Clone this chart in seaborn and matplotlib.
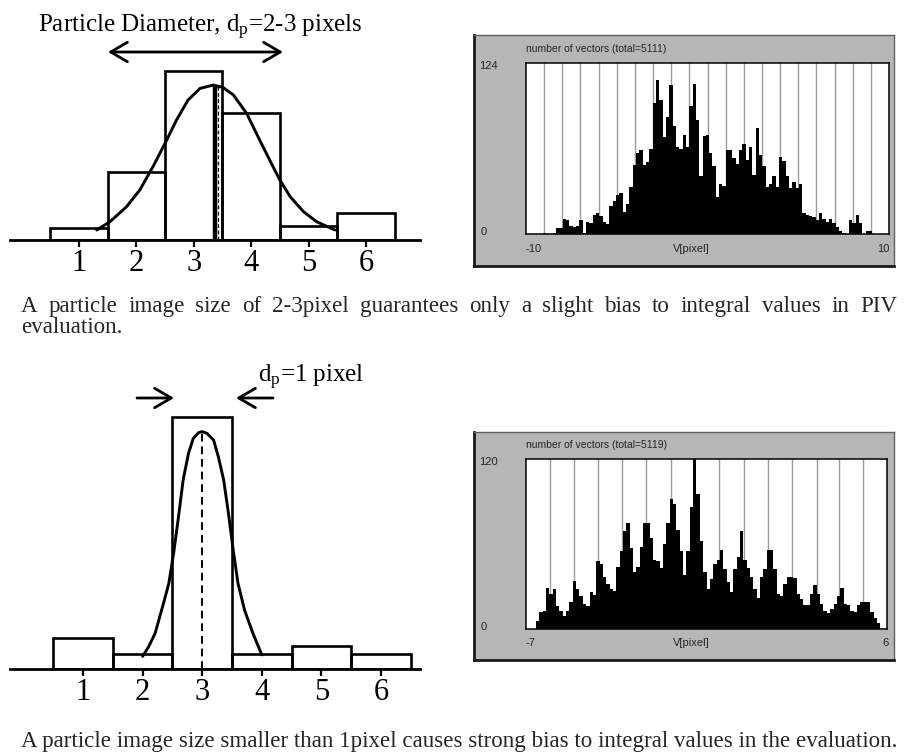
import numpy as np
import pandas as pd
import matplotlib
matplotlib.use("Agg")
import matplotlib.pyplot as plt
import seaborn as sns

# ---------------- data ----------------
size_ticks = [1, 2, 3, 4, 5, 6]
size_tick_labels = ["1", "2", "3", "4", "5", "6"]
size_bin_edges = [0.5, 1.5, 2.5, 3.5, 4.5, 5.5, 6.5]

# upper sketch: particle diameter 2-3 pixels
top_bar_heights = [0.07, 0.40, 1.00, 0.75, 0.08, 0.16]
top_curve_x = [1.31, 1.54, 1.83, 2.06, 2.29, 2.50, 2.70, 2.90, 3.11, 3.34,
               3.51, 3.69, 3.92, 4.15, 4.38, 4.50, 4.68, 4.91, 5.14, 5.46]
top_curve_y = [0.059, 0.108, 0.197, 0.296, 0.434, 0.572, 0.710, 0.828, 0.897, 0.917,
               0.903, 0.858, 0.750, 0.590, 0.434, 0.355, 0.256, 0.168, 0.108, 0.059]
top_peak_x = 3.37
top_peak_y = 0.917

# lower sketch: particle diameter 1 pixel
bottom_bar_heights = [0.123, 0.06, 1.00, 0.06, 0.091, 0.06]
bottom_curve_x = [2.00, 2.10, 2.21, 2.35, 2.44, 2.52, 2.60, 2.68, 2.77, 2.85, 2.94,
                  3.00, 3.08, 3.19, 3.27, 3.36, 3.44, 3.52, 3.60, 3.71, 3.85, 4.00]
bottom_curve_y = [0.050, 0.088, 0.142, 0.260, 0.340, 0.459, 0.600, 0.750, 0.856, 0.915, 0.938,
                  0.942, 0.935, 0.909, 0.843, 0.750, 0.618, 0.472, 0.340, 0.234, 0.142, 0.056]
bottom_peak_x = 3.0
bottom_peak_y = 0.942

# PIV histograms
hist1_title = "number of vectors (total=5111)"
hist1_range = (-10, 10)
hist1_ymax = 124
hist1_xlabels = ["-10", "V[pixel]", "10"]
hist1_grid = [-9, -8, -7, -6, -5, -4, -3, -2, -1, 0, 1, 2, 3, 4, 5, 6, 7, 8, 9]
hist1_counts = [0, 0, 0, 0, 0, 1, 0, 0,
                1, 4, 4, 11, 10, 6, 5, 6, 10, 1,
                9, 8, 14, 15, 13, 9, 7,
                20, 24, 28, 30, 16, 22, 34,
                50, 59, 61, 50, 52, 62,
                95, 112, 97, 70, 85, 108, 78, 63, 62, 72, 63, 93, 109, 83,
                42, 71, 72, 59, 49, 27, 36, 35,
                61, 61, 55, 51, 61, 65, 54, 63, 43, 77, 57, 49,
                34, 36, 42, 34, 56, 53, 42, 33, 38, 33, 36,
                15, 14, 13, 12, 10, 15, 11, 9, 11, 8, 5, 2, 1, 0,
                10, 8, 14, 8, 0, 2, 2,
                0, 0, 0, 0, 0]

hist2_title = "number of vectors (total=5119)"
hist2_range = (-7, 6)
hist2_ymax = 120
hist2_xlabels = ["-7", "V[pixel]", "6"]
hist2_grid = [-6.14, -5.27, -4.41, -3.54, -2.68, -1.78, -0.95, -0.05,
              0.85, 1.71, 2.58, 3.48, 4.27, 5.14]
hist2_counts = [0, 0, 0, 6, 12, 13, 29, 25, 28, 16,
                13, 9, 13, 19, 34, 28, 23, 18, 16, 26,
                24, 48, 46, 37, 32, 28, 27, 44, 55, 69,
                75, 57, 40, 44, 58, 75, 75, 64, 49, 48,
                43, 60, 75, 92, 88, 70, 55, 38, 55, 86,
                120, 95, 62, 40, 28, 35, 46, 49, 56, 42,
                33, 26, 42, 51, 69, 49, 43, 37, 28, 22,
                37, 42, 56, 56, 42, 25, 23, 32, 37, 37,
                36, 25, 21, 17, 17, 25, 31, 25, 18, 13,
                11, 14, 18, 23, 29, 18, 17, 13, 12, 17,
                19, 19, 19, 12, 8, 4, 0, 0]

caption1_line1 = "A particle image size of 2-3pixel guarantees only a slight bias to integral values in PIV"
caption1_line2 = "evaluation."
caption2 = "A particle image size smaller than 1pixel causes strong bias to integral values in the evaluation."

# ---------------- style ----------------
sns.set_theme(style="ticks")
plt.rcParams['font.family'] = ['Liberation Serif', 'DejaVu Serif']
plt.rcParams['mathtext.fontset'] = 'custom'
plt.rcParams['mathtext.rm'] = 'Liberation Serif'
plt.rcParams['mathtext.it'] = 'Liberation Serif:italic'

W, H = 916, 755
fig = plt.figure(figsize=(W / 100, H / 100), dpi=100)
fig.patch.set_facecolor('white')


def px_axes(x0, y0, x1, y1):
    return fig.add_axes([x0 / W, 1 - y1 / H, (x1 - x0) / W, (y1 - y0) / H])


def fpt(x, y):
    return (x / W, 1 - y / H)


def size_panel(rect, xlim, ylim, heights, cx, cy, peak_x, peak_y, thick_peak):
    ax = px_axes(*rect)
    ax.set_facecolor('none')
    df = pd.DataFrame({"size": size_ticks, "h": heights})
    sns.histplot(data=df, x="size", weights="h", bins=size_bin_edges, element='bars',
                 fill=False, color='black', linewidth=1.9, ax=ax)
    sns.lineplot(x=cx, y=cy, color='black', linewidth=2.1, estimator=None, ax=ax)
    if thick_peak:
        ax.plot([peak_x, peak_x], [0, peak_y], color='black', lw=3.2, solid_capstyle='butt')
        ax.plot([peak_x + 0.05, peak_x + 0.05], [0, peak_y], color='black', lw=0.9,
                linestyle=(0, (3, 2)))
    else:
        ax.plot([peak_x, peak_x], [0, peak_y], color='black', lw=1.4,
                linestyle=(0, (4, 2.5)))
    ax.set_xlim(*xlim)
    ax.set_ylim(*ylim)
    for s in ['top', 'right', 'left']:
        ax.spines[s].set_visible(False)
    ax.spines['bottom'].set_linewidth(2.0)
    ax.spines['bottom'].set_color('black')
    ax.set_yticks([])
    ax.set_xticks(size_ticks)
    ax.set_xticklabels(size_tick_labels)
    ax.tick_params(axis='x', direction='out', length=5, width=1.6, pad=1.5,
                   labelsize=22, colors='black', bottom=True)
    ax.set_xlabel('')
    ax.set_ylabel('')
    return ax


size_panel((10, 0, 420, 240), (-0.20, 6.94), (0, 240 / 169), top_bar_heights,
           top_curve_x, top_curve_y, top_peak_x, top_peak_y, True)
size_panel((10, 390, 420, 669), (-0.225, 6.654), (0, 279 / 252), bottom_bar_heights,
           bottom_curve_x, bottom_curve_y, bottom_peak_x, bottom_peak_y, False)

# annotations of the sketches
fig.text(*fpt(38, 32), r"Particle Diameter, d$_\mathrm{p}$=2-3 pixels", fontsize=18,
         ha='left', va='baseline', color='black')
fig.text(*fpt(258, 382), r"d$_\mathrm{p}$=1 pixel", fontsize=18,
         ha='left', va='baseline', color='black')

arrow_kw = dict(lw=2, color='black', shrinkA=0, shrinkB=0, mutation_scale=20)
fig.add_artist(matplotlib.patches.FancyArrowPatch(
    fpt(108, 52), fpt(283, 52), transform=fig.transFigure,
    arrowstyle='<->,head_length=0.6,head_width=0.35', **arrow_kw))
fig.add_artist(matplotlib.patches.FancyArrowPatch(
    fpt(137, 398), fpt(174, 398), transform=fig.transFigure,
    arrowstyle='->,head_length=0.6,head_width=0.35', **arrow_kw))
fig.add_artist(matplotlib.patches.FancyArrowPatch(
    fpt(273, 398), fpt(236, 398), transform=fig.transFigure,
    arrowstyle='->,head_length=0.6,head_width=0.35', **arrow_kw))


def hist_panel(box, inner, counts, xrange_, grid, ymax, title, xlabels, label_y, title_y):
    bx = px_axes(*box)
    bx.set_facecolor('#b6b6b6')
    bx.set_xticks([])
    bx.set_yticks([])
    for s in ['top', 'right']:
        bx.spines[s].set_color('#606060')
        bx.spines[s].set_linewidth(1.0)
    for s in ['left', 'bottom']:
        bx.spines[s].set_color('#1a1a1a')
        bx.spines[s].set_linewidth(2.0)

    ax = px_axes(*inner)
    ax.set_facecolor('white')
    n = len(counts)
    lo, hi = xrange_
    edges = [lo + (hi - lo) * i / n for i in range(n + 1)]
    centers = [0.5 * (edges[i] + edges[i + 1]) for i in range(n)]
    df = pd.DataFrame({"v": centers, "count": counts})
    for g in grid:
        ax.axvline(g, color='#9c9c9c', lw=1.0, zorder=0.5)
    sns.histplot(data=df, x="v", weights="count", bins=edges, element='step', fill=True,
                 color='black', alpha=1.0, linewidth=0, ax=ax, zorder=2)
    ax.set_xlim(lo, hi)
    ax.set_ylim(0, ymax)
    ax.set_xticks([])
    ax.set_yticks([])
    ax.set_xlabel('')
    ax.set_ylabel('')
    for s in ax.spines.values():
        s.set_color('black')
        s.set_linewidth(1.1)

    x0, y0, x1, y1 = inner
    sans = ['Liberation Sans', 'DejaVu Sans']
    fig.text(*fpt(x0, title_y), title, fontsize=7.5, family=sans, ha='left', va='center')
    fig.text(*fpt(479, y0 + 3), str(ymax), fontsize=8, family=sans, ha='left', va='center')
    fig.text(*fpt(481, y1 - 2), "0", fontsize=8, family=sans, ha='left', va='center')
    fig.text(*fpt(x0, label_y), xlabels[0], fontsize=8, family=sans, ha='left', va='center')
    fig.text(*fpt(691, label_y), xlabels[1], fontsize=8, family=sans, ha='center', va='center')
    fig.text(*fpt(889, label_y), xlabels[2], fontsize=8, family=sans, ha='right', va='center')


hist_panel((474, 35, 894, 266), (526, 63, 889, 234), hist1_counts, hist1_range,
           hist1_grid, hist1_ymax, hist1_title, hist1_xlabels, 249, 49)
hist_panel((474, 432, 894, 660), (526, 459, 887, 629), hist2_counts, hist2_range,
           hist2_grid, hist2_ymax, hist2_title, hist2_xlabels, 643, 445)

# ---------------- captions ----------------
renderer = fig.canvas.get_renderer()
X0, X1 = 21, 897

probe = fig.text(0, 0, caption2, fontsize=16)
w16 = probe.get_window_extent(renderer).width
probe.remove()
cap_size = 16 * (X1 - X0) / w16

fig.text(*fpt(X0, 747), caption2, fontsize=cap_size, ha='left', va='baseline')
fig.text(*fpt(X0, 333), caption1_line2, fontsize=cap_size, ha='left', va='baseline')

words = caption1_line1.split()
objs, widths = [], []
for wd in words:
    t = fig.text(*fpt(0, 312), wd, fontsize=cap_size, ha='left', va='baseline')
    objs.append(t)
    widths.append(t.get_window_extent(renderer).width)
gap = (X1 - X0 - sum(widths)) / (len(words) - 1)
xx = X0
for t, wdt in zip(objs, widths):
    t.set_x(xx / W)
    xx += wdt + gap

fig.savefig("out.png", dpi=100, facecolor='white')
